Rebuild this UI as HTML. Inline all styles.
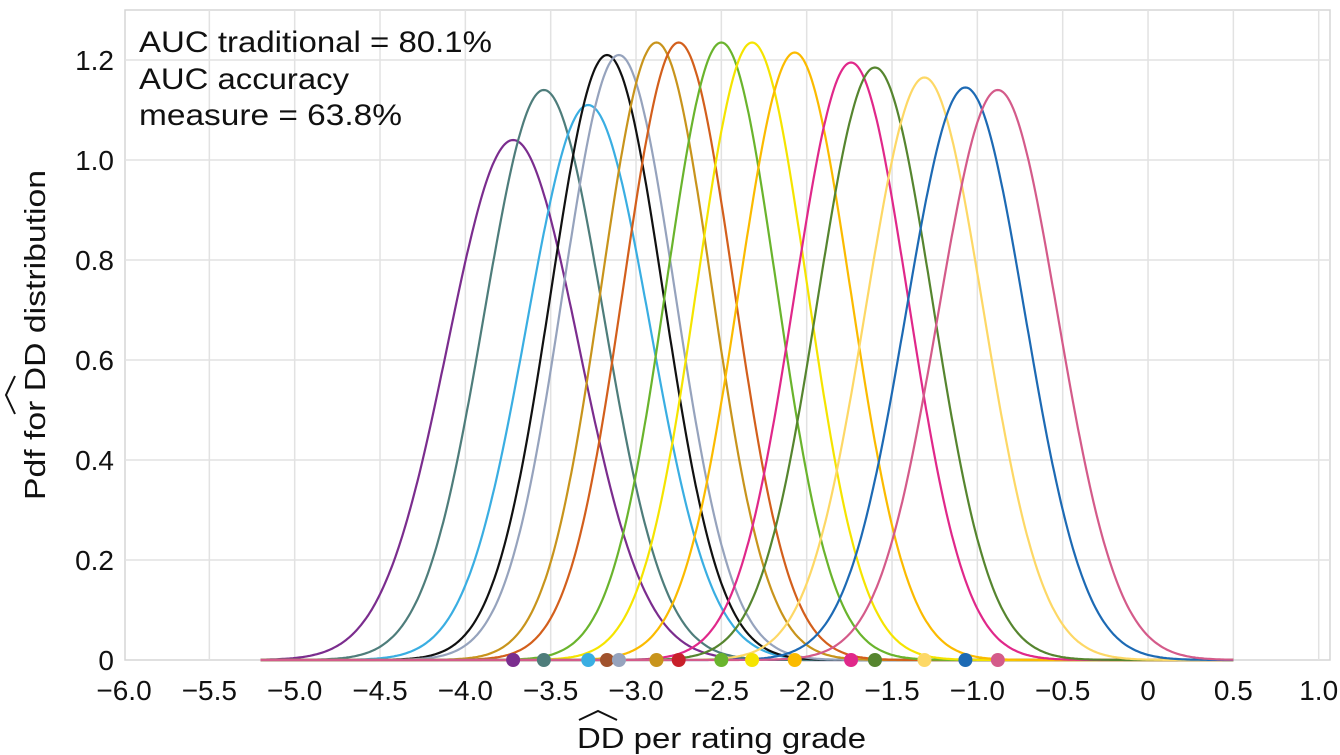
<!DOCTYPE html>
<html><head><meta charset="utf-8"><style>
html,body{margin:0;padding:0;background:#fff;}
svg{display:block;font-family:"Liberation Sans",Arial,sans-serif;}
</style></head><body>
<svg id="s" width="1340" height="755" viewBox="0 0 1340 755" xmlns="http://www.w3.org/2000/svg">
<rect x="125" y="10" width="1205" height="650" fill="#fff" stroke="#d6d6d6" stroke-width="1.5"/>
<g id="grid" stroke="#e2e2e2" stroke-width="1.5"></g>
<g id="curves" fill="none" stroke-width="2.2"></g>
<g id="dots"></g>
<g id="ticks" font-size="28" fill="#111"></g>
<text x="139" y="52" font-size="30" fill="#111" textLength="353" lengthAdjust="spacingAndGlyphs">AUC traditional = 80.1%</text>
<text x="139" y="89" font-size="30" fill="#111" textLength="210" lengthAdjust="spacingAndGlyphs">AUC accuracy</text>
<text x="139" y="125" font-size="30" fill="#111" textLength="263" lengthAdjust="spacingAndGlyphs">measure = 63.8%</text>
<text x="577" y="748" font-size="29" fill="#111" textLength="289" lengthAdjust="spacingAndGlyphs">DD per rating grade</text>
<path d="M579 720 L598 711 L617 720" fill="none" stroke="#111" stroke-width="2"/>
<g transform="translate(45,500) rotate(-90)">
<text x="0" y="0" font-size="29" fill="#111" textLength="330" lengthAdjust="spacingAndGlyphs">Pdf for DD distribution</text>
<path d="M86 -30 L105 -39 L124 -30" fill="none" stroke="#111" stroke-width="2"/>
</g>
</svg>
<script>
var ns="http://www.w3.org/2000/svg";
function X(v){return 124+(v+6)*170.67;}
function Y(v){return 660-500*v;}
function el(t,a,p,txt){var e=document.createElementNS(ns,t);for(var k in a)e.setAttribute(k,a[k]);if(txt!==undefined)e.textContent=txt;p.appendChild(e);return e;}
var g=document.getElementById('grid'),tk=document.getElementById('ticks');
for(var i=1;i<15;i++){var x=X(-6+i*0.5);el('line',{x1:x,y1:10,x2:x,y2:660},g);}
for(var j=1;j<7;j++){var y=Y(j*0.2);el('line',{x1:125,y1:y,x2:1330,y2:y},g);}
var yl=['0','0.2','0.4','0.6','0.8','1.0','1.2'];
for(var j=0;j<7;j++){el('text',{x:114,y:Y(j*0.2)+10,'text-anchor':'end'},tk,yl[j]);}
for(var i=0;i<15;i++){var v=-6+i*0.5;var s=(v==0)?'0':(v<0?'\u2212'+Math.abs(v).toFixed(1):v.toFixed(1));
el('text',{x:X(v),y:700,'text-anchor':'middle'},tk,s);}
var C=[[-3.72,1.04,'#7b2d8e','#7b2d8e'],[-3.54,1.14,'#4e7d7b','#4e7d7b'],[-3.28,1.11,'#3aaee2','#3aaee2'],
[-3.17,1.21,'#111111','#a0522d'],[-3.10,1.21,'#96a3bd','#96a3bd'],[-2.88,1.235,'#c8941c','#c8941c'],
[-2.75,1.235,'#d35f1c','#c8202a'],[-2.50,1.235,'#6ab42d','#6ab42d'],[-2.32,1.235,'#f5e400','#f5e400'],
[-2.07,1.215,'#fbbb00','#fbbb00'],[-1.74,1.195,'#e0288a','#e0288a'],[-1.60,1.185,'#56852f','#56852f'],
[-1.31,1.165,'#fdd866','#fdd866'],[-1.07,1.145,'#1d6ab4','#1d6ab4'],[-0.88,1.14,'#d45b8a','#d45b8a']];
var cg=document.getElementById('curves'),dg=document.getElementById('dots');
C.forEach(function(c){var mu=c[0],h=c[1],sd=1/(h*Math.sqrt(2*Math.PI));var d='';
for(var v=-5.2;v<=0.5001;v+=0.01){var p=h*Math.exp(-0.5*Math.pow((v-mu)/sd,2));d+=(d?'L':'M')+X(v).toFixed(1)+' '+Y(p).toFixed(1);}
el('path',{d:d,stroke:c[2]},cg);});
C.forEach(function(c){el('circle',{cx:X(c[0]),cy:660,r:7,fill:c[3]},dg);});
</script>
</body></html>
